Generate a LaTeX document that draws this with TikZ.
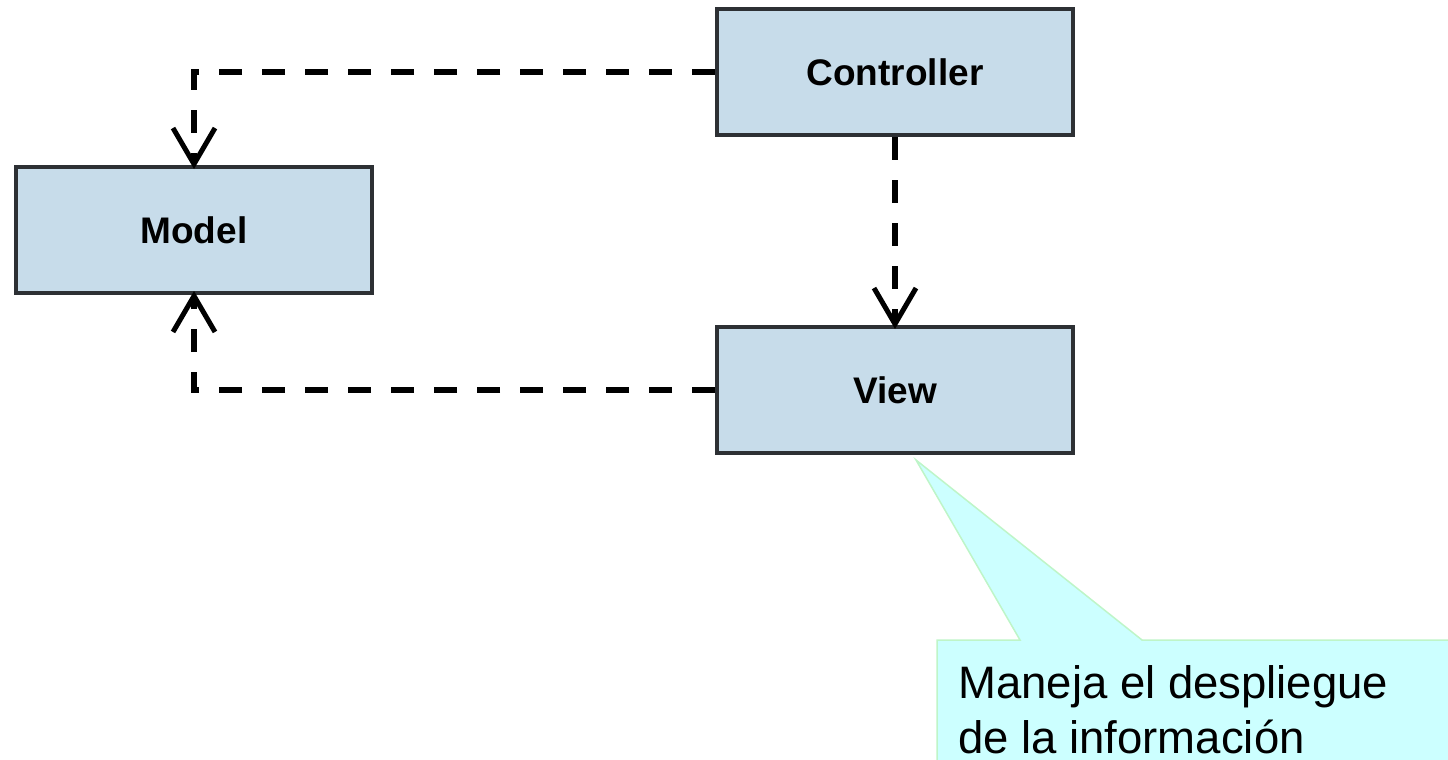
\documentclass[tikz,border=0pt]{standalone}
\usepackage{fontspec}
\setmainfont{Liberation Sans}
\usetikzlibrary{arrows.meta,calc}

\definecolor{boxfill}{RGB}{199,220,234}
\definecolor{boxline}{RGB}{45,48,52}
\definecolor{notefill}{RGB}{204,255,255}
\definecolor{noteline}{RGB}{190,245,200}

\tikzset{
  mvcbox/.style={draw=boxline, line width=4pt, fill=boxfill,
    minimum width=356pt, minimum height=126pt, inner sep=0pt,
    font=\fontsize{37}{42}\selectfont\bfseries},
  dep/.style={line width=6pt, dash pattern=on 23pt off 20pt,
    shorten >=-4pt,
    -{Straight Barb[length=36pt, width=42pt, line width=5pt]}},
  notetext/.style={anchor=base west, inner sep=0pt,
    font=\fontsize{45.5}{54}\selectfont}
}

\begin{document}
\begin{tikzpicture}[x=1pt, y=-1pt]
  \useasboundingbox (0,0) rectangle (1448,760);

  % the three MVC components
  \node[mvcbox] (model) at (194,230) {Model};
  \node[mvcbox] (ctrl)  at (895,72)  {Controller};
  \node[mvcbox] (view)  at (895,390) {View};

  % dependencies
  \draw[dep] (ctrl.west) -| (model.north);
  \draw[dep] (ctrl.south) -- (view.north);
  \draw[dep] (view.west) -| (model.south);

  % callout pointing at the view
  \coordinate (tip) at ($(view.south)+(21,5)$);
  \fill[notefill, draw=noteline, line width=1.5pt]
    (937,640) -- (1020,640) -- (tip) -- (1142,640) -- (1470,640)
    -- (1470,790) -- (937,790) -- cycle;
  \node[notetext] (note1) at (958,698) {Maneja el despliegue};
  \node[notetext] (note2) at (958,753) {de la información};
\end{tikzpicture}
\end{document}
